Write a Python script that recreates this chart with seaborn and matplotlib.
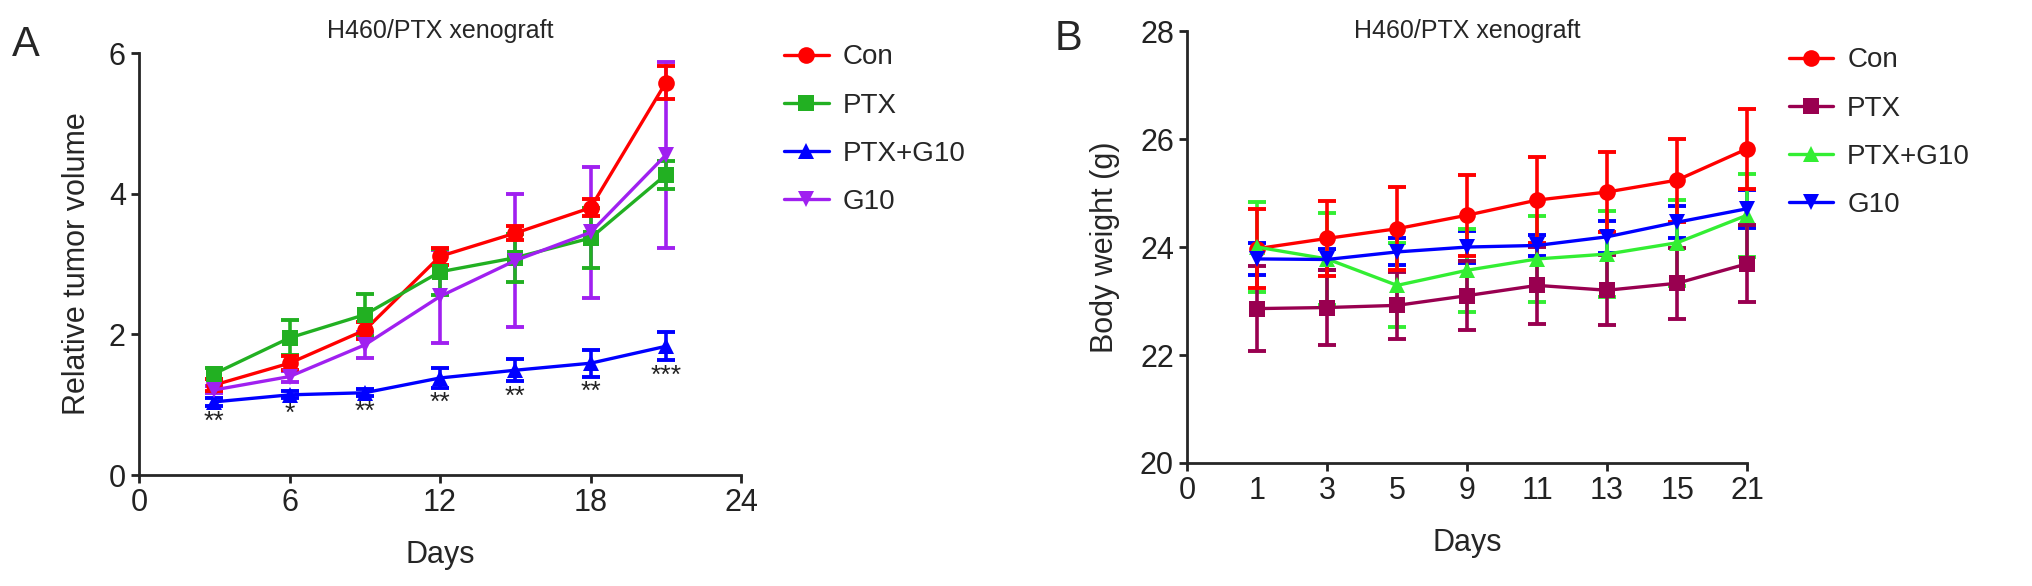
import numpy as np
import pandas as pd
import seaborn as sns
import matplotlib.pyplot as plt

sns.set_style("ticks")
plt.rcParams["font.family"] = ["Liberation Sans", "DejaVu Sans"]
plt.rcParams.update({"font.size": 20})

# panel A: relative tumor volume
days_a = [3, 6, 9, 12, 15, 18, 21]
groups_a = ["Con", "PTX", "PTX+G10", "G10"]
con_a = [1.28, 1.59, 2.06, 3.11, 3.44, 3.80, 5.58]
con_a_err = [0.08, 0.10, 0.12, 0.12, 0.10, 0.12, 0.23]
ptx_a = [1.44, 1.95, 2.28, 2.89, 3.09, 3.37, 4.27]
ptx_a_err = [0.08, 0.25, 0.30, 0.33, 0.34, 0.42, 0.20]
ptxg10_a = [1.04, 1.14, 1.17, 1.38, 1.49, 1.59, 1.83]
ptxg10_a_err = [0.06, 0.05, 0.05, 0.14, 0.16, 0.19, 0.20]
g10_a = [1.21, 1.40, 1.85, 2.54, 3.05, 3.45, 4.55]
g10_a_err = [0.05, 0.08, 0.19, 0.66, 0.94, 0.93, 1.32]
stars_a = ["**", "*", "**", "**", "**", "**", "***"]

# panel B: body weight
days_b = [1, 3, 5, 9, 11, 13, 15, 21]
groups_b = ["Con", "PTX", "PTX+G10", "G10"]
con_b = [23.97, 24.16, 24.34, 24.59, 24.87, 25.02, 25.24, 25.82]
con_b_err = [0.73, 0.70, 0.77, 0.75, 0.80, 0.74, 0.77, 0.74]
ptx_b = [22.86, 22.88, 22.92, 23.10, 23.29, 23.20, 23.33, 23.69]
ptx_b_err = [0.78, 0.70, 0.62, 0.64, 0.71, 0.65, 0.66, 0.71]
ptxg10_b = [24.00, 23.78, 23.29, 23.57, 23.78, 23.87, 24.08, 24.59]
ptxg10_b_err = [0.83, 0.85, 0.78, 0.77, 0.80, 0.80, 0.80, 0.77]
g10_b = [23.78, 23.77, 23.91, 24.00, 24.03, 24.19, 24.46, 24.71]
g10_b_err = [0.30, 0.20, 0.25, 0.30, 0.20, 0.30, 0.30, 0.35]
tick_labels_b = ["0"] + [str(d) for d in days_b]

colors_a = {"Con": "#FF0000", "PTX": "#22B022", "PTX+G10": "#0000FF", "G10": "#A020F0"}
colors_b = {"Con": "#FF0000", "PTX": "#990050", "PTX+G10": "#33EE33", "G10": "#0000FF"}
markers = {"Con": "o", "PTX": "s", "PTX+G10": "^", "G10": "v"}


def long_df(x, groups, means, errs):
    rows = []
    for g, m, e in zip(groups, means, errs):
        for xi, mi, ei in zip(x, m, e):
            rows.append({"x": xi, "group": g, "value": mi, "err": ei})
    return pd.DataFrame(rows)


df_a = long_df(days_a, groups_a, [con_a, ptx_a, ptxg10_a, g10_a],
               [con_a_err, ptx_a_err, ptxg10_a_err, g10_a_err])
pos_b = list(range(1, len(days_b) + 1))
df_b = long_df(pos_b, groups_b, [con_b, ptx_b, ptxg10_b, g10_b],
               [con_b_err, ptx_b_err, ptxg10_b_err, g10_b_err])

fig = plt.figure(figsize=(20.32, 5.86), dpi=100)
ax_a = fig.add_axes([0.0684, 0.1894, 0.2963, 0.720])
ax_b = fig.add_axes([0.5842, 0.2099, 0.2756, 0.737])


def draw(ax, df, palette):
    for g in df["group"].unique()[::-1]:
        d = df[df["group"] == g]
        ax.errorbar(d["x"], d["value"], yerr=d["err"], fmt="none", ecolor=palette[g],
                    elinewidth=2.6, capsize=6.5, capthick=2.8, clip_on=False, zorder=2)
    sns.lineplot(data=df, x="x", y="value", hue="group", style="group", palette=palette,
                 markers=markers, dashes=False, errorbar=None, markersize=12,
                 markeredgewidth=0, linewidth=2.4, ax=ax, clip_on=False, zorder=3)
    for s in ["top", "right"]:
        ax.spines[s].set_visible(False)
    for s in ["left", "bottom"]:
        ax.spines[s].set_linewidth(2)
    ax.tick_params(direction="out", length=6, width=2, labelsize=22, colors="#222222")


draw(ax_a, df_a, colors_a)
ax_a.set_xlim(0, 24)
ax_a.set_ylim(0, 6)
ax_a.set_xticks([0, 6, 12, 18, 24])
ax_a.set_yticks([0, 2, 4, 6])
ax_a.set_xlabel("Days", fontsize=22, labelpad=16)
ax_a.set_ylabel("Relative tumor volume", fontsize=22, labelpad=12)
ax_a.set_title("H460/PTX xenograft", fontsize=18, y=1.035, pad=0)
for d, v, e, s in zip(days_a, ptxg10_a, ptxg10_a_err, stars_a):
    ax_a.text(d, v - e - 0.22, s, ha="center", va="center", fontsize=19, color="#222222")
sns.move_legend(ax_a, "upper left", bbox_to_anchor=(1.03, 1.08), frameon=False, title=None,
                fontsize=20, handlelength=1.6, handletextpad=0.5, labelspacing=0.8)

draw(ax_b, df_b, colors_b)
ax_b.set_xlim(0, len(days_b))
ax_b.set_ylim(20, 28)
ax_b.set_xticks(range(len(tick_labels_b)))
ax_b.set_xticklabels(tick_labels_b)
for i, t in enumerate(ax_b.xaxis.get_major_ticks()):
    if i % 2:
        t.tick1line.set_visible(False)
ax_b.set_yticks([20, 22, 24, 26, 28])
ax_b.set_xlabel("Days", fontsize=22, labelpad=16)
ax_b.set_ylabel("Body weight (g)", fontsize=22, labelpad=14)
ax_b.set_title("H460/PTX xenograft", fontsize=18, y=0.985, pad=0)
sns.move_legend(ax_b, "upper left", bbox_to_anchor=(1.03, 1.02), frameon=False, title=None,
                fontsize=20, handlelength=1.6, handletextpad=0.5, labelspacing=0.8)

fig.text(0.006, 0.905, "A", fontsize=30, va="baseline")
fig.text(0.519, 0.915, "B", fontsize=30, va="baseline")

fig.savefig("out.png", dpi=100)
